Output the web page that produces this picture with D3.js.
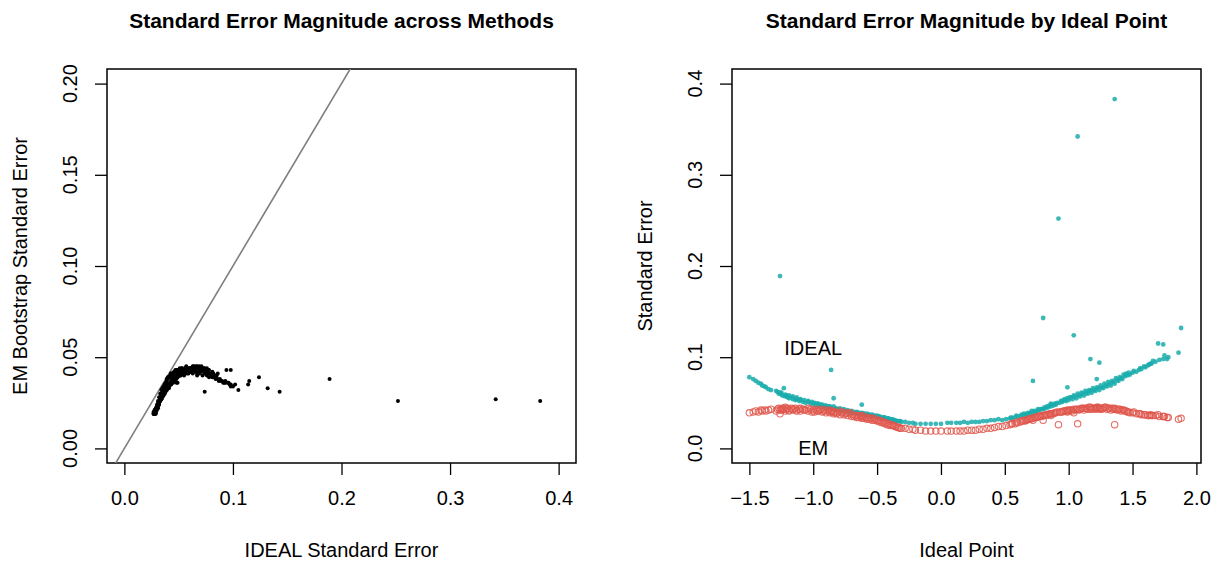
<!DOCTYPE html>
<html>
<head>
<meta charset="utf-8">
<script src="https://cdn.jsdelivr.net/npm/d3@7"></script>
<style>
body { margin: 0; background: #fff; }
text { font-family: "Liberation Sans", Arial, Helvetica, sans-serif; fill: #000; }
</style>
</head>
<body>
<svg id="chart" width="1217" height="562"></svg>
<script>
"use strict";

// one entry per legislator: ideal point, IDEAL standard error, EM bootstrap standard error
var idealPoint = [
        // far left
        -1.50, -1.47, -1.45, -1.43, -1.41, -1.40, -1.38, -1.37, -1.35, -1.33,
        // left bulk
        -1.28, -1.27, -1.26, -1.25, -1.24, -1.23, -1.22, -1.21, -1.20, -1.19,
        -1.17, -1.16, -1.14, -1.13, -1.11, -1.10, -1.08, -1.06, -1.04, -1.02,
        -1.00, -0.98, -0.97, -0.95, -0.94, -0.92, -0.91, -0.89, -0.88, -0.86,
        -0.85, -0.83, -0.81, -0.80, -0.78, -0.77, -0.75, -0.74, -0.72, -0.71,
        -0.69, -0.67, -0.65, -0.63, -0.61, -0.59, -0.57, -0.55, -0.53, -0.51,
        -0.49, -0.47, -0.45, -0.43, -0.41, -0.39, -0.37, -0.35, -0.33, -0.31,
        // centre
        -0.28, -0.25, -0.22, -0.20, -0.16, -0.12, -0.08, -0.04, 0.00, 0.05,
        0.08, 0.12, 0.15, 0.18, 0.21, 0.24, 0.27, 0.30, 0.33, 0.36,
        0.39, 0.42, 0.45, 0.48,
        // right bulk
        0.51, 0.54, 0.56, 0.58, 0.60, 0.62, 0.64, 0.66, 0.67, 0.69,
        0.70, 0.72, 0.74, 0.75, 0.77, 0.79, 0.80, 0.82, 0.84, 0.86,
        0.88, 0.90, 0.93, 0.95, 0.98,
        1.00, 1.02, 1.03, 1.05, 1.06, 1.08, 1.09, 1.11, 1.12, 1.14,
        1.15, 1.17, 1.18, 1.20, 1.21, 1.23, 1.24, 1.26, 1.27, 1.29,
        1.30, 1.32, 1.33, 1.35, 1.36, 1.38, 1.39, 1.41, 1.42, 1.44,
        // far right
        1.46, 1.48, 1.50, 1.53, 1.55, 1.57, 1.60, 1.62, 1.65, 1.68,
        1.71, 1.74, 1.78,
        // outliers
        -1.26, -0.86, -0.84, -0.62, 0.72, 0.80, 0.86, 0.92, 0.99, 1.04,
        1.07, 1.17, 1.22, 1.24, 1.36, 1.63, 1.66, 1.70, 1.74, 1.75,
        1.77, 1.86, 1.88,
        // more of the left bulk
        -1.29, -1.25, -1.22, -1.19, -1.16, -1.13, -1.10, -1.07, -1.04, -1.01,
        -0.99, -0.96, -0.93, -0.90, -0.87, -0.84, -0.82, -0.79, -0.76, -0.73,
        -0.70, -0.68, -0.66, -0.64, -0.62, -0.60, -0.58, -0.56, -0.54, -0.52,
        -0.50, -0.48, -0.46, -0.44, -0.42, -0.40, -0.38, -0.36, -0.34, -0.32,
        // more of the right bulk
        0.55, 0.59, 0.63, 0.65, 0.68, 0.71, 0.73, 0.76, 0.78, 0.81,
        0.83, 0.85, 0.87, 0.89, 0.91, 0.94, 0.96, 0.97, 0.99, 1.01,
        1.04, 1.07, 1.10, 1.13, 1.16, 1.19, 1.22, 1.25, 1.28, 1.31,
        1.34, 1.37, 1.40, 1.43, 1.45, 1.47, 1.51, 1.56, 1.59, 1.64
];

var idealSE = [
        0.078, 0.076, 0.074, 0.072, 0.071, 0.069, 0.068, 0.067, 0.065, 0.064,
        0.062, 0.060, 0.061, 0.059, 0.058, 0.066, 0.057, 0.058, 0.056, 0.055,
        0.056, 0.054, 0.053, 0.054, 0.052, 0.053, 0.051, 0.050, 0.051, 0.049,
        0.049, 0.047, 0.049, 0.046, 0.048, 0.045, 0.047, 0.044, 0.046, 0.045,
        0.043, 0.044, 0.042, 0.043, 0.041, 0.042, 0.040, 0.041, 0.039, 0.040,
        0.039, 0.038, 0.039, 0.037, 0.038, 0.036, 0.037, 0.035, 0.036, 0.034,
        0.035, 0.033, 0.034, 0.032, 0.033, 0.031, 0.031, 0.030, 0.030, 0.029,
        0.029, 0.028, 0.028, 0.027, 0.027, 0.027, 0.027, 0.027, 0.027, 0.028,
        0.028, 0.028, 0.028, 0.029, 0.028, 0.029, 0.029, 0.029, 0.030, 0.030,
        0.031, 0.031, 0.032, 0.031,
        0.032, 0.033, 0.033, 0.034, 0.035, 0.035, 0.036, 0.037, 0.037, 0.038,
        0.039, 0.039, 0.040, 0.041, 0.042, 0.043, 0.043, 0.044, 0.045, 0.046,
        0.047, 0.048, 0.050, 0.051, 0.052,
        0.053, 0.056, 0.054, 0.057, 0.055, 0.058, 0.057, 0.060, 0.058, 0.061,
        0.060, 0.063, 0.061, 0.064, 0.063, 0.066, 0.064, 0.067, 0.066, 0.069,
        0.068, 0.071, 0.069, 0.073, 0.071, 0.075, 0.074, 0.077, 0.076, 0.079,
        0.080, 0.081, 0.083, 0.084, 0.086, 0.087, 0.089, 0.091, 0.093, 0.095,
        0.097, 0.098, 0.100,
        0.189, 0.086, 0.055, 0.048, 0.074, 0.143, 0.049, 0.252, 0.067, 0.124,
        0.342, 0.098, 0.076, 0.094, 0.383, 0.092, 0.096, 0.115, 0.114, 0.102,
        0.098, 0.105, 0.132,
        0.063, 0.061, 0.059, 0.058, 0.057, 0.056, 0.054, 0.053, 0.052, 0.051,
        0.050, 0.049, 0.048, 0.047, 0.046, 0.046, 0.044, 0.044, 0.043, 0.042,
        0.041, 0.040, 0.040, 0.039, 0.039, 0.038, 0.038, 0.037, 0.037, 0.036,
        0.036, 0.035, 0.034, 0.034, 0.033, 0.032, 0.032, 0.031, 0.030, 0.030,
        0.034, 0.036, 0.037, 0.038, 0.039, 0.041, 0.041, 0.043, 0.043, 0.045,
        0.046, 0.047, 0.048, 0.049, 0.050, 0.052, 0.053, 0.054, 0.055, 0.056,
        0.058, 0.060, 0.061, 0.063, 0.064, 0.066, 0.067, 0.069, 0.071, 0.073,
        0.074, 0.077, 0.078, 0.081, 0.082, 0.083, 0.085, 0.088, 0.090, 0.093
];

var emSE = [
        0.039, 0.040, 0.041, 0.040, 0.042, 0.041, 0.042, 0.041, 0.042, 0.043,
        0.043, 0.044, 0.042, 0.043, 0.044, 0.043, 0.045, 0.043, 0.044, 0.042,
        0.044, 0.043, 0.044, 0.042, 0.043, 0.044, 0.043, 0.042, 0.044, 0.043,
        0.042, 0.043, 0.041, 0.042, 0.043, 0.041, 0.042, 0.041, 0.042, 0.040,
        0.041, 0.040, 0.039, 0.041, 0.039, 0.040, 0.038, 0.039, 0.038, 0.039,
        0.037, 0.036, 0.036, 0.035, 0.035, 0.034, 0.034, 0.033, 0.033, 0.032,
        0.031, 0.030, 0.029, 0.028, 0.027, 0.026, 0.025, 0.024, 0.023, 0.022,
        0.022, 0.021, 0.021, 0.020, 0.020, 0.019, 0.019, 0.019, 0.019, 0.019,
        0.019, 0.019, 0.019, 0.019, 0.020, 0.020, 0.020, 0.021, 0.021, 0.022,
        0.022, 0.023, 0.024, 0.024,
        0.025, 0.026, 0.027, 0.027, 0.028, 0.029, 0.030, 0.030, 0.031, 0.032,
        0.032, 0.033, 0.034, 0.034, 0.035, 0.035, 0.036, 0.037, 0.037, 0.038,
        0.038, 0.039, 0.040, 0.040, 0.041,
        0.041, 0.042, 0.041, 0.042, 0.043, 0.042, 0.043, 0.044, 0.042, 0.044,
        0.043, 0.045, 0.043, 0.044, 0.043, 0.045, 0.044, 0.043, 0.044, 0.045,
        0.043, 0.044, 0.042, 0.043, 0.044, 0.042, 0.043, 0.041, 0.042, 0.041,
        0.040, 0.039, 0.039, 0.038, 0.038, 0.037, 0.037, 0.036, 0.036, 0.036,
        0.035, 0.035, 0.034,
        0.038, 0.041, 0.040, 0.036, 0.031, 0.031, 0.036, 0.026, 0.040, 0.039,
        0.027, 0.043, 0.044, 0.043, 0.026, 0.036, 0.036, 0.037, 0.035, 0.035,
        0.034, 0.032, 0.033,
        0.041, 0.042, 0.041, 0.041, 0.042, 0.041, 0.041, 0.042, 0.041, 0.040,
        0.040, 0.041, 0.040, 0.039, 0.039, 0.038, 0.038, 0.037, 0.037, 0.036,
        0.035, 0.035, 0.034, 0.034, 0.033, 0.033, 0.032, 0.032, 0.031, 0.031,
        0.030, 0.029, 0.028, 0.027, 0.026, 0.025, 0.025, 0.024, 0.023, 0.022,
        0.027, 0.029, 0.030, 0.031, 0.032, 0.033, 0.034, 0.035, 0.036, 0.036,
        0.037, 0.038, 0.038, 0.039, 0.040, 0.040, 0.041, 0.041, 0.042, 0.042,
        0.043, 0.043, 0.044, 0.044, 0.045, 0.044, 0.045, 0.044, 0.045, 0.044,
        0.044, 0.043, 0.043, 0.042, 0.041, 0.040, 0.040, 0.038, 0.037, 0.037
];

// axis ticks
var leftXTicks = [0.0, 0.1, 0.2, 0.3, 0.4];
var leftYTicks = [0.00, 0.05, 0.10, 0.15, 0.20];
var rightXTicks = [-1.5, -1.0, -0.5, 0.0, 0.5, 1.0, 1.5, 2.0];
var rightYTicks = [0.0, 0.1, 0.2, 0.3, 0.4];

var svg = d3.select("#chart");

var boxTop = 69, boxBottom = 463, boxWidth = 469;

function makePanel(left, xDomain, yDomain, xTicks, yTicks, yFormat, title, xLabel, yLabel) {
        //draw the frame, the ticks and the labels of one panel, return its scales
        var x = d3.scaleLinear().domain(xDomain).range([left, left + boxWidth]);
        var y = d3.scaleLinear().domain(yDomain).range([boxBottom, boxTop]);

        var g = svg.append("g");

        // x axis
        var xa = g.append("g")
                .attr("transform", "translate(0," + boxBottom + ")")
                .call(d3.axisBottom(x).tickValues(xTicks).tickSize(12).tickPadding(16)
                        .tickFormat(d3.format(".1f")));
        xa.select(".domain").remove();
        xa.selectAll("line").attr("stroke", "#000").attr("stroke-width", 1.3);
        xa.selectAll("text").attr("font-size", 20).attr("font-family", null);

        // y axis, labels are turned like in R
        var ya = g.append("g")
                .attr("transform", "translate(" + left + ",0)")
                .call(d3.axisLeft(y).tickValues(yTicks).tickSize(12).tickFormat(""));
        ya.select(".domain").remove();
        ya.selectAll("line").attr("stroke", "#000").attr("stroke-width", 1.3);
        g.selectAll(".ylab")
                .data(yTicks)
                .enter()
                .append("text")
                .attr("transform", function (d) { return "translate(" + (left - 30) + "," + y(d) + ")rotate(-90)"; })
                .attr("text-anchor", "middle")
                .attr("font-size", 20)
                .text(yFormat);

        // frame
        g.append("rect")
                .attr("x", left)
                .attr("y", boxTop)
                .attr("width", boxWidth)
                .attr("height", boxBottom - boxTop)
                .attr("fill", "none")
                .attr("stroke", "#000")
                .attr("stroke-width", 1.5);

        // titles
        g.append("text")
                .attr("x", left + boxWidth / 2)
                .attr("y", 28)
                .attr("text-anchor", "middle")
                .attr("font-size", 21)
                .attr("font-weight", "bold")
                .text(title);
        g.append("text")
                .attr("x", left + boxWidth / 2)
                .attr("y", 557)
                .attr("text-anchor", "middle")
                .attr("font-size", 20)
                .text(xLabel);
        g.append("text")
                .attr("transform", "translate(" + (left - 80) + "," + ((boxTop + boxBottom) / 2) + ")rotate(-90)")
                .attr("text-anchor", "middle")
                .attr("font-size", 20)
                .text(yLabel);

        // clip path for the marks
        var id = "clip" + left;
        svg.append("clipPath").attr("id", id)
                .append("rect")
                .attr("x", left).attr("y", boxTop)
                .attr("width", boxWidth).attr("height", boxBottom - boxTop);

        return { x: x, y: y, clip: "url(#" + id + ")" };
}

// left panel: IDEAL vs EM bootstrap
var p1 = makePanel(107, [-0.016, 0.416], [-0.008, 0.208], leftXTicks, leftYTicks,
        d3.format(".2f"), "Standard Error Magnitude across Methods",
        "IDEAL Standard Error", "EM Bootstrap Standard Error");

svg.append("line")
        .attr("clip-path", p1.clip)
        .attr("x1", p1.x(-0.016)).attr("y1", p1.y(-0.016))
        .attr("x2", p1.x(0.3)).attr("y2", p1.y(0.3))
        .attr("stroke", "#7f7f7f")
        .attr("stroke-width", 1.6);

svg.append("g").attr("clip-path", p1.clip)
        .selectAll("circle")
        .data(d3.range(idealSE.length))
        .enter()
        .append("circle")
        .attr("cx", function (i) { return p1.x(idealSE[i]); })
        .attr("cy", function (i) { return p1.y(emSE[i]); })
        .attr("r", 2)
        .attr("fill", "#000");

// right panel: both standard errors against ideal point
var p2 = makePanel(732, [-1.636, 2.036], [-0.016, 0.416], rightXTicks, rightYTicks,
        d3.format(".1f"), "Standard Error Magnitude by Ideal Point",
        "Ideal Point", "Standard Error");

svg.append("g").attr("clip-path", p2.clip)
        .selectAll("circle")
        .data(d3.range(idealPoint.length))
        .enter()
        .append("circle")
        .attr("cx", function (i) { return p2.x(idealPoint[i]); })
        .attr("cy", function (i) { return p2.y(idealSE[i]); })
        .attr("r", 2.4)
        .attr("fill", "#1aabab")
        .attr("opacity", 0.85);

svg.append("g").attr("clip-path", p2.clip)
        .selectAll("circle")
        .data(d3.range(idealPoint.length))
        .enter()
        .append("circle")
        .attr("cx", function (i) { return p2.x(idealPoint[i]); })
        .attr("cy", function (i) { return p2.y(emSE[i]); })
        .attr("r", 3.2)
        .attr("fill", "none")
        .attr("stroke", "#df564b")
        .attr("stroke-width", 1.1)
        .attr("opacity", 0.85);

svg.append("text")
        .attr("x", p2.x(-1.0)).attr("y", p2.y(0.11) + 7)
        .attr("text-anchor", "middle").attr("font-size", 20)
        .text("IDEAL");
svg.append("text")
        .attr("x", p2.x(-1.0)).attr("y", p2.y(0.0) + 7)
        .attr("text-anchor", "middle").attr("font-size", 20)
        .text("EM");
</script>
</body>
</html>
